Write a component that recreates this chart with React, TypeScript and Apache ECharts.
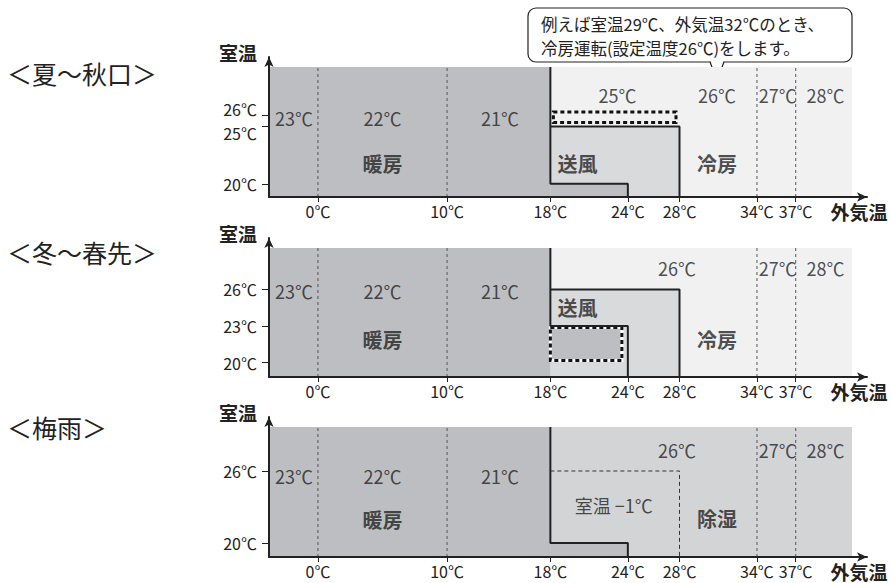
import React, { useEffect, useRef } from 'react';
import * as echarts from 'echarts';

const FONT = '"Noto Sans CJK JP", "Noto Sans", sans-serif';
const INK = '#222222';
const PALETTE = ['#bdbec1', '#d9dadc', '#f1f1f2', '#d3d4d6']; // heat, fan, cool, dry

// ---- data ----
const xTicks = [0, 10, 18, 24, 28, 34, 37];
const guideLinesX = [0, 10, 34, 37];
const xAxisRange = [-3.79, 42.52];
const fillX = [-3.79, 41.36];

const panelTitles = ['＜夏～秋口＞', '＜冬～春先＞', '＜梅雨＞'];

const heatSetLabels = ['23℃', '22℃', '21℃'];
const heatSetX = [-1.85, 5.0, 14.1];
const coolSetLabelsSummer = ['25℃', '26℃', '27℃', '28℃'];
const coolSetXSummer = [23.2, 30.9, 35.6, 39.3];
const coolSetLabels = ['26℃', '27℃', '28℃'];
const coolSetX = [27.8, 35.6, 39.3];

// summer / early autumn
const summerYTicks = [20, 25, 26];
const summerYRange = [18.85, 31.05, 30.17]; // axis min, axis max, fill top
const summerHeatStep = [18, 20, 24];
const summerFan = [18, 28, 25];
const summerDottedBand = [18, 28, 25, 26];
const summerRows = [25.73, 27.73];
const summerModes = ['暖房', '送風', '冷房'];
const summerModeX = [5.0, 20.1, 30.9];
const summerModeY = [21.8, 21.8, 21.8];

// winter / early spring
const winterYTicks = [20, 23, 26];
const winterYRange = [18.81, 30.23, 29.41];
const winterHeatStep = [18, 23, 24];
const winterFan = [18, 28, 26];
const winterDottedBox = [18, 24, 20, 23];
const winterRows = [25.88, 27.77];
const winterModes = ['暖房', '送風', '冷房'];
const winterModeX = [5.0, 20.1, 30.9];
const winterModeY = [21.85, 24.56, 21.85];

// rainy season
const rainyYTicks = [20, 26];
const rainyYRange = [18.83, 30.5, 29.67];
const rainyHeatStep = [18, 20, 24];
const rainyDashed = [18, 28, 26];
const rainyRows = [25.58, 27.75];
const rainyModes = ['暖房', '除湿'];
const rainyModeX = [5.0, 30.9];
const rainyModeY = [21.92, 22.08];
const rainyNote = '室温 −1℃';
const rainyNotePos = [22.9, 23.17];

const calloutLines = ['例えば室温29℃、外気温32℃のとき、', '冷房運転(設定温度26℃)をします。'];

// ---- layout (style) ----
const GRIDS = [
  { left: 269, top: 57, width: 598, height: 140 },
  { left: 269, top: 238, width: 598, height: 139 },
  { left: 269, top: 417, width: 598, height: 140 },
];
const TITLE_Y = [73, 252, 427];

function rectRender(params: any, api: any) {
  const p0 = api.coord([api.value(0), api.value(3)]);
  const p1 = api.coord([api.value(1), api.value(2)]);
  return {
    type: 'rect',
    shape: { x: p0[0], y: p0[1], width: p1[0] - p0[0], height: p1[1] - p0[1] },
    style: { fill: PALETTE[api.value(4)] },
  };
}

function dottedBoxRender(inset: number[], fill: string, underlay: boolean) {
  return (params: any, api: any) => {
    const p0 = api.coord([api.value(0), api.value(3)]);
    const p1 = api.coord([api.value(1), api.value(2)]);
    const shape = {
      x: p0[0] + inset[3],
      y: p0[1] + inset[0],
      width: p1[0] - p0[0] - inset[1] - inset[3],
      height: p1[1] - p0[1] - inset[0] - inset[2],
    };
    return {
      type: 'group',
      children: [
        { type: 'rect', shape, style: { fill, stroke: underlay ? '#ffffff' : null, lineWidth: 3 } },
        { type: 'rect', shape, style: { fill: 'none', stroke: '#111111', lineWidth: 3, lineDash: [4, 3] } },
      ],
    };
  };
}

function lineSeries(gi: number, pts: number[][], width: number, type: any, color = INK, z = 5) {
  return {
    type: 'line',
    xAxisIndex: gi,
    yAxisIndex: gi,
    data: pts,
    symbol: 'none',
    silent: true,
    z,
    lineStyle: { color, width, type },
  };
}

function textSeries(gi: number, items: { name: string; value: number[] }[], fontSize: number, fontWeight: any) {
  return {
    type: 'scatter',
    xAxisIndex: gi,
    yAxisIndex: gi,
    symbolSize: 0,
    silent: true,
    z: 8,
    data: items,
    labelLayout: { hideOverlap: false },
    label: {
      show: true,
      position: 'inside',
      formatter: '{b}',
      fontSize,
      fontWeight,
      fontFamily: FONT,
      color: INK,
      align: 'center',
      verticalAlign: 'middle',
    },
  };
}

function zip(labels: string[], xs: number[], ys: number[] | number) {
  return labels.map((name, i) => ({ name, value: [xs[i], Array.isArray(ys) ? ys[i] : ys] }));
}

function buildOption() {
  const [xL, xR] = fillX;
  const series: any[] = [];

  // ---- panel 0: summer ----
  {
    const gi = 0;
    const [yMin, , yTop] = summerYRange;
    const [hx, hy, hx2] = summerHeatStep;
    const [fx0, fx1, fy] = summerFan;
    series.push({
      type: 'custom', xAxisIndex: gi, yAxisIndex: gi, silent: true, z: 1,
      renderItem: rectRender, encode: { x: [0, 1], y: [2, 3] },
      data: [
        [xL, xR, yMin, yTop, 2],
        [fx0, fx1, yMin, fy, 1],
        [xL, hx, yMin, yTop, 0],
        [hx, hx2, yMin, hy, 0],
      ],
    });
    series.push({
      type: 'custom', xAxisIndex: gi, yAxisIndex: gi, silent: true, z: 4,
      renderItem: dottedBoxRender([-3, 3.5, 4, 3], PALETTE[2], false), encode: { x: [0, 1], y: [2, 3] },
      data: [summerDottedBand],
    });
    guideLinesX.forEach((gx) => series.push(lineSeries(gi, [[gx, yMin], [gx, yTop]], 1, [3, 3], '#555555', 3)));
    series.push(lineSeries(gi, [[hx, yTop], [hx, hy], [hx2, hy], [hx2, yMin]], 2, 'solid'));
    series.push(lineSeries(gi, [[fx0, fy], [fx1, fy], [fx1, yMin]], 2, 'solid'));
    series.push(textSeries(gi, zip(heatSetLabels, heatSetX, summerRows[0]), 18, 'normal'));
    series.push(textSeries(gi, zip(coolSetLabelsSummer, coolSetXSummer, summerRows[1]), 18, 'normal'));
    series.push(textSeries(gi, zip(summerModes, summerModeX, summerModeY), 20, 'bold'));
  }

  // ---- panel 1: winter ----
  {
    const gi = 1;
    const [yMin, , yTop] = winterYRange;
    const [hx, hy, hx2] = winterHeatStep;
    const [fx0, fx1, fy] = winterFan;
    series.push({
      type: 'custom', xAxisIndex: gi, yAxisIndex: gi, silent: true, z: 1,
      renderItem: rectRender, encode: { x: [0, 1], y: [2, 3] },
      data: [
        [xL, xR, yMin, yTop, 2],
        [fx0, fx1, yMin, fy, 1],
        [xL, hx, yMin, yTop, 0],
      ],
    });
    series.push({
      type: 'custom', xAxisIndex: gi, yAxisIndex: gi, silent: true, z: 4,
      renderItem: dottedBoxRender([1.5, 6, 2, 0], PALETTE[0], true), encode: { x: [0, 1], y: [2, 3] },
      data: [winterDottedBox],
    });
    guideLinesX.forEach((gx) => series.push(lineSeries(gi, [[gx, yMin], [gx, yTop]], 1, [3, 3], '#555555', 3)));
    series.push(lineSeries(gi, [[hx, yTop], [hx, hy], [hx2, hy], [hx2, yMin]], 2, 'solid'));
    series.push(lineSeries(gi, [[fx0, fy], [fx1, fy], [fx1, yMin]], 2, 'solid'));
    series.push(textSeries(gi, zip(heatSetLabels, heatSetX, winterRows[0]), 18, 'normal'));
    series.push(textSeries(gi, zip(coolSetLabels, coolSetX, winterRows[1]), 18, 'normal'));
    series.push(textSeries(gi, zip(winterModes, winterModeX, winterModeY), 20, 'bold'));
  }

  // ---- panel 2: rainy ----
  {
    const gi = 2;
    const [yMin, , yTop] = rainyYRange;
    const [hx, hy, hx2] = rainyHeatStep;
    const [dx0, dx1, dy] = rainyDashed;
    series.push({
      type: 'custom', xAxisIndex: gi, yAxisIndex: gi, silent: true, z: 1,
      renderItem: rectRender, encode: { x: [0, 1], y: [2, 3] },
      data: [
        [xL, xR, yMin, yTop, 3],
        [xL, hx, yMin, yTop, 0],
        [hx, hx2, yMin, hy, 0],
      ],
    });
    guideLinesX.forEach((gx) => series.push(lineSeries(gi, [[gx, yMin], [gx, yTop]], 1, [3, 3], '#555555', 3)));
    series.push(lineSeries(gi, [[hx, yTop], [hx, hy], [hx2, hy], [hx2, yMin]], 2, 'solid'));
    series.push(lineSeries(gi, [[dx0, dy], [dx1, dy], [dx1, yMin]], 1, [4, 3], '#333333', 4));
    series.push(textSeries(gi, zip(heatSetLabels, heatSetX, rainyRows[0]), 18, 'normal'));
    series.push(textSeries(gi, zip(coolSetLabels, coolSetX, rainyRows[1]), 18, 'normal'));
    series.push(textSeries(gi, zip(rainyModes, rainyModeX, rainyModeY), 20, 'bold'));
    series.push(textSeries(gi, [{ name: rainyNote, value: rainyNotePos }], 18, 'normal'));
  }

  const yTickSets = [summerYTicks, winterYTicks, rainyYTicks];
  const yRanges = [summerYRange, winterYRange, rainyYRange];

  const xAxis = GRIDS.map((_, gi) => ({
    type: 'value',
    gridIndex: gi,
    min: xAxisRange[0],
    max: xAxisRange[1],
    z: 10,
    axisLine: { show: true, onZero: false, symbol: ['none', 'arrow'], symbolSize: [7, 10], lineStyle: { color: INK, width: 2 } },
    axisTick: { show: true, customValues: xTicks, length: 5, lineStyle: { color: INK, width: 1 } },
    axisLabel: {
      show: true, customValues: xTicks, margin: 6, fontSize: 16, fontFamily: FONT, color: INK,
      hideOverlap: false,
      formatter: (v: number) => `${v}℃`,
    },
    splitLine: { show: false },
  }));

  const labelFmt = (v: number) => `${v}℃`;

  // main y axes (one per panel). Panel 0's close 25/26 ticks get their labels from two
  // overlay axes with opposite vertical alignment so they don't collide.
  const yAxis: any[] = GRIDS.map((_, gi) => ({
    type: 'value',
    gridIndex: gi,
    min: yRanges[gi][0],
    max: yRanges[gi][1],
    z: 10,
    axisLine: { show: true, onZero: false, symbol: ['none', 'arrow'], symbolSize: [7, 10], lineStyle: { color: INK, width: 2 } },
    axisTick: { show: true, customValues: yTickSets[gi], length: 7, lineStyle: { color: INK, width: 1 } },
    axisLabel: {
      show: true,
      customValues: gi === 0 ? [yTickSets[0][0]] : yTickSets[gi],
      margin: 12, fontSize: 16, fontFamily: FONT, color: INK,
      hideOverlap: false,
      formatter: labelFmt,
    },
    splitLine: { show: false },
  }));
  const overlay = (value: number, verticalAlign: string, lineHeight: number) => ({
    type: 'value',
    gridIndex: 0,
    min: summerYRange[0],
    max: summerYRange[1],
    position: 'left',
    offset: 0,
    z: 10,
    axisLine: { show: false, onZero: false },
    axisTick: { show: false },
    axisLabel: {
      show: true, customValues: [value], margin: 12, fontSize: 16, fontFamily: FONT, color: INK,
      verticalAlign, lineHeight, hideOverlap: false, formatter: labelFmt,
    },
    splitLine: { show: false },
  });
  yAxis.push(overlay(summerYTicks[2], 'bottom', 11));
  yAxis.push(overlay(summerYTicks[1], 'top', 13));

  const graphic: any[] = [];
  panelTitles.forEach((t, i) => {
    graphic.push({
      type: 'text', x: 7, y: TITLE_Y[i],
      style: { text: t, fontSize: 25, fontFamily: FONT, fill: INK, align: 'left', verticalAlign: 'middle' },
    });
    const g = GRIDS[i];
    graphic.push({
      type: 'text', x: 238, y: g.top - 5,
      style: { text: '室温', fontSize: 19, fontWeight: 'bold', fontFamily: FONT, fill: INK, align: 'center', verticalAlign: 'middle' },
    });
    graphic.push({
      type: 'text', x: 859, y: g.top + g.height + 14,
      style: { text: '外気温', fontSize: 19, fontWeight: 'bold', fontFamily: FONT, fill: INK, align: 'center', verticalAlign: 'middle' },
    });
  });

  graphic.push({
    type: 'group',
    children: [
      { type: 'rect', shape: { x: 528, y: 8, width: 324, height: 54, r: 8 }, style: { fill: '#ffffff', stroke: INK, lineWidth: 1.2 } },
      { type: 'polygon', shape: { points: [[710.5, 60.5], [717, 79], [723.5, 60.5]] }, style: { fill: '#ffffff', stroke: null } },
      { type: 'polyline', shape: { points: [[710, 62], [717, 80], [724, 62]] }, style: { fill: 'none', stroke: INK, lineWidth: 1.2 } },
      {
        type: 'text', x: 541, y: 23.5,
        style: { text: calloutLines[0], fontSize: 16.5, fontFamily: FONT, fill: INK, align: 'left', verticalAlign: 'middle' },
      },
      {
        type: 'text', x: 541, y: 47.5,
        style: { text: calloutLines[1], fontSize: 16.5, fontFamily: FONT, fill: INK, align: 'left', verticalAlign: 'middle' },
      },
    ],
  });

  return {
    animation: false,
    backgroundColor: '#ffffff',
    textStyle: { fontFamily: FONT },
    grid: GRIDS.map((g) => ({ ...g, containLabel: false })),
    xAxis,
    yAxis,
    series,
    graphic,
  };
}

export default function App() {
  const ref = useRef<HTMLDivElement>(null);
  useEffect(() => {
    if (!ref.current) return;
    const chart = echarts.init(ref.current, undefined, { renderer: 'svg' });
    chart.setOption(buildOption() as any);
    return () => chart.dispose();
  }, []);
  return (
    <div
      ref={ref}
      style={{ position: 'fixed', left: 0, top: 0, width: 892, height: 583, background: '#ffffff' }}
    />
  );
}
